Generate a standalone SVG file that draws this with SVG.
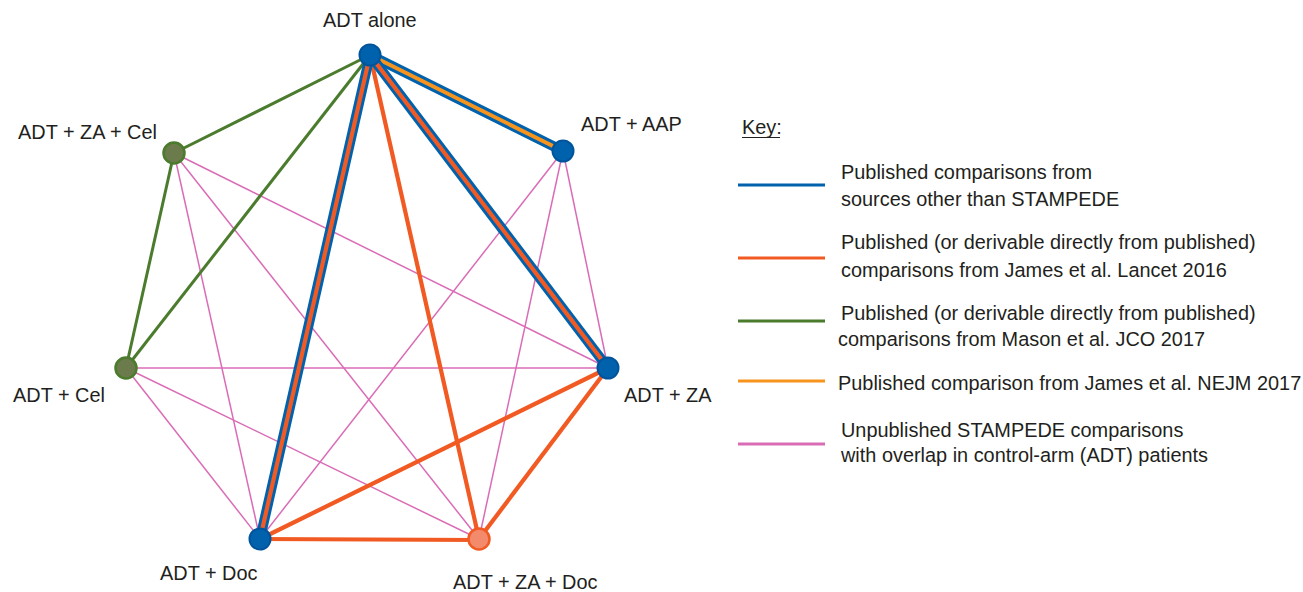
<svg xmlns="http://www.w3.org/2000/svg" width="1303" height="592" viewBox="0 0 1303 592">
<style>
text{font-family:"Liberation Sans",Arial,sans-serif;font-size:19.9px;fill:#231F20}
.pk{stroke:#DA6CB6;stroke-width:1.5;fill:none}
.gr{stroke:#4B7B2D;stroke-width:3;fill:none}
.rd{stroke:#F15A22;stroke-width:4.2;fill:none}
.bl{stroke:#0061AD;stroke-width:10;fill:none}
.or{stroke:#F7941D;stroke-width:4;fill:none}
.nb{fill:#0061AD;stroke:#00549C;stroke-width:2}
.ng{fill:#6B7B4B;stroke:#4B7B2D;stroke-width:2.5}
.no{fill:#F38A6C;stroke:#F15A22;stroke-width:2.5}
</style>
<rect width="1303" height="592" fill="#FFFFFF"/>
<g id="connectors">
<line class="pk" x1="563" y1="151" x2="608" y2="368"/>
<line class="pk" x1="563" y1="151" x2="479" y2="539"/>
<line class="pk" x1="563" y1="151" x2="260" y2="539"/>
<line class="pk" x1="174" y1="153" x2="608" y2="368"/>
<line class="pk" x1="174" y1="153" x2="479" y2="539"/>
<line class="pk" x1="174" y1="153" x2="260" y2="539"/>
<line class="pk" x1="126" y1="368" x2="608" y2="368"/>
<line class="pk" x1="126" y1="368" x2="260" y2="539"/>
<line class="pk" x1="126" y1="368" x2="479" y2="539"/>
<line class="gr" x1="370" y1="55" x2="174" y2="153"/>
<line class="gr" x1="370" y1="55" x2="126" y2="368"/>
<line class="gr" x1="174" y1="153" x2="126" y2="368"/>
<line class="rd" x1="370" y1="55" x2="479" y2="539"/>
<line class="rd" x1="608" y1="368" x2="260" y2="539"/>
<line class="rd" x1="608" y1="368" x2="479" y2="539"/>
<line class="rd" x1="260" y1="539" x2="479" y2="540"/>
<line class="bl" x1="370" y1="55" x2="563" y2="151"/>
<line class="or" x1="370" y1="55" x2="563" y2="151"/>
<line class="bl" x1="370" y1="55" x2="608" y2="368"/>
<line class="rd" x1="370" y1="55" x2="608" y2="368"/>
<line class="bl" x1="370" y1="55" x2="260" y2="539"/>
<line class="rd" x1="370" y1="55" x2="260" y2="539"/>
</g>
<g id="node-adt-alone"><circle class="nb" cx="370" cy="55" r="10.5"/><text x="323" y="27">ADT alone</text></g>
<g id="node-adt-aap"><circle class="nb" cx="563" cy="151" r="10.5"/><text x="581" y="131">ADT + AAP</text></g>
<g id="node-adt-za"><circle class="nb" cx="608" cy="368" r="10.5"/><text x="624" y="402">ADT + ZA</text></g>
<g id="node-adt-za-doc"><circle class="no" cx="479" cy="539" r="10.5"/><text x="453" y="589">ADT + ZA + Doc</text></g>
<g id="node-adt-doc"><circle class="nb" cx="260" cy="539" r="10.5"/><text x="160" y="580">ADT + Doc</text></g>
<g id="node-adt-cel"><circle class="ng" cx="126" cy="368" r="10.5"/><text x="13" y="402">ADT + Cel</text></g>
<g id="node-adt-za-cel"><circle class="ng" cx="174" cy="153" r="10.5"/><text x="18" y="139">ADT + ZA + Cel</text></g>
<g id="legend">
<text x="742" y="134">Key:</text>
<line x1="742" y1="137.5" x2="780" y2="137.5" stroke="#231F20" stroke-width="1"/>
<line x1="738" y1="185" x2="825" y2="185" stroke="#0061AD" stroke-width="3"/>
<text x="841" y="179">Published comparisons from</text>
<text x="841" y="206">sources other than STAMPEDE</text>
<line x1="738" y1="258" x2="825" y2="258" stroke="#F15A22" stroke-width="3"/>
<text x="841" y="249">Published (or derivable directly from published)</text>
<text x="841" y="277">comparisons from James et al. Lancet 2016</text>
<line x1="738" y1="321" x2="825" y2="321" stroke="#4B7B2D" stroke-width="3"/>
<text x="841" y="320">Published (or derivable directly from published)</text>
<text x="838" y="346">comparisons from Mason et al. JCO 2017</text>
<line x1="738" y1="381" x2="825" y2="381" stroke="#F7941D" stroke-width="3"/>
<text x="838" y="390">Published comparison from James et al. NEJM 2017</text>
<line x1="738" y1="444" x2="825" y2="444" stroke="#DA6CB6" stroke-width="3"/>
<text x="841" y="437">Unpublished STAMPEDE comparisons</text>
<text x="841" y="462">with overlap in control-arm (ADT) patients</text>
</g>
</svg>
